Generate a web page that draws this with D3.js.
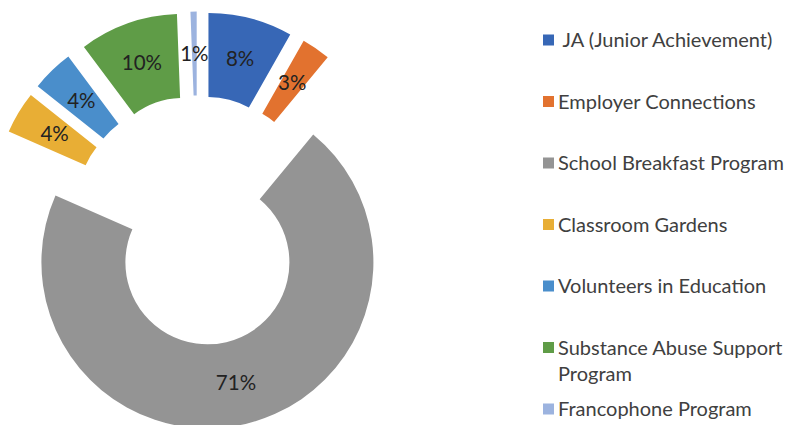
<!DOCTYPE html>
<html>
<head>
<meta charset="utf-8">
<script src="https://cdn.jsdelivr.net/npm/d3@7"></script>
<style>
  html, body { margin: 0; padding: 0; background: #fff; }
  svg { display: block; }
</style>
</head>
<body>
<svg id="chart" width="804" height="425"></svg>
<script>
// ---- data ----
const categories = [
  "JA (Junior Achievement)",
  "Employer Connections",
  "School Breakfast Program",
  "Classroom Gardens",
  "Volunteers in Education",
  "Substance Abuse Support Program",
  "Francophone Program"
];
const values = [8.2, 2.8, 70.6, 4.1, 4.1, 9.6, 0.6];
const colors = ["#3767b6", "#e2722f", "#949494", "#e8ae35", "#4a8ecb", "#5f9c47", "#9cb3df"];
// legend lines (wrapped as in the reference)
const legendLines = [
  [" JA (Junior Achievement)"],
  ["Employer Connections"],
  ["School Breakfast Program"],
  ["Classroom Gardens"],
  ["Volunteers in Education"],
  ["Substance Abuse Support", "Program"],
  ["Francophone Program"]
];

const svg = d3.select("#chart");
const font = "Lato, 'Open Sans', sans-serif";

const cx = 197.5, cy = 220.5;
const rOut = 166, rIn = 82, explode = 43;

const total = d3.sum(values);
const pie = d3.pie().sort(null).value(d => d);
const arcs = pie(values);
const arc = d3.arc().innerRadius(rIn).outerRadius(rOut);
const fmt = d3.format(".0%");

const g = svg.append("g").attr("transform", `translate(${cx},${cy})`);

const slices = g.selectAll("g.slice")
  .data(arcs)
  .join("g")
  .attr("class", "slice")
  .attr("transform", d => {
    const m = (d.startAngle + d.endAngle) / 2;
    return `translate(${explode * Math.sin(m)},${-explode * Math.cos(m)})`;
  });

slices.append("path")
  .attr("d", arc)
  .attr("fill", (d, i) => colors[i]);

slices.append("text")
  .attr("transform", d => `translate(${arc.centroid(d)})`)
  .attr("text-anchor", "middle")
  .attr("dy", "0.35em")
  .attr("font-family", font)
  .attr("font-size", 20.5)
  .attr("fill", "#222")
  .text(d => fmt(d.value / total));

// ---- legend ----
const ly = d3.scalePoint().domain(categories).range([40, 409]);
const legend = svg.append("g");
const items = legend.selectAll("g.item")
  .data(categories)
  .join("g")
  .attr("class", "item")
  .attr("transform", c => `translate(543,${ly(c)})`);

items.append("rect")
  .attr("x", 0).attr("y", -5.5)
  .attr("width", 11).attr("height", 11)
  .attr("fill", (c, i) => colors[i]);

items.each(function(c, i) {
  const t = d3.select(this).append("text")
    .attr("x", 15)
    .attr("y", 0)
    .attr("font-family", font)
    .attr("font-size", 20)
    .attr("fill", "#404040")
    .attr("xml:space", "preserve")
    .style("white-space", "pre");
  legendLines[i].forEach((line, k) => {
    t.append("tspan")
      .attr("x", 15)
      .attr("dy", k === 0 ? "0.35em" : "1.3em")
      .text(line);
  });
});
</script>
</body>
</html>
